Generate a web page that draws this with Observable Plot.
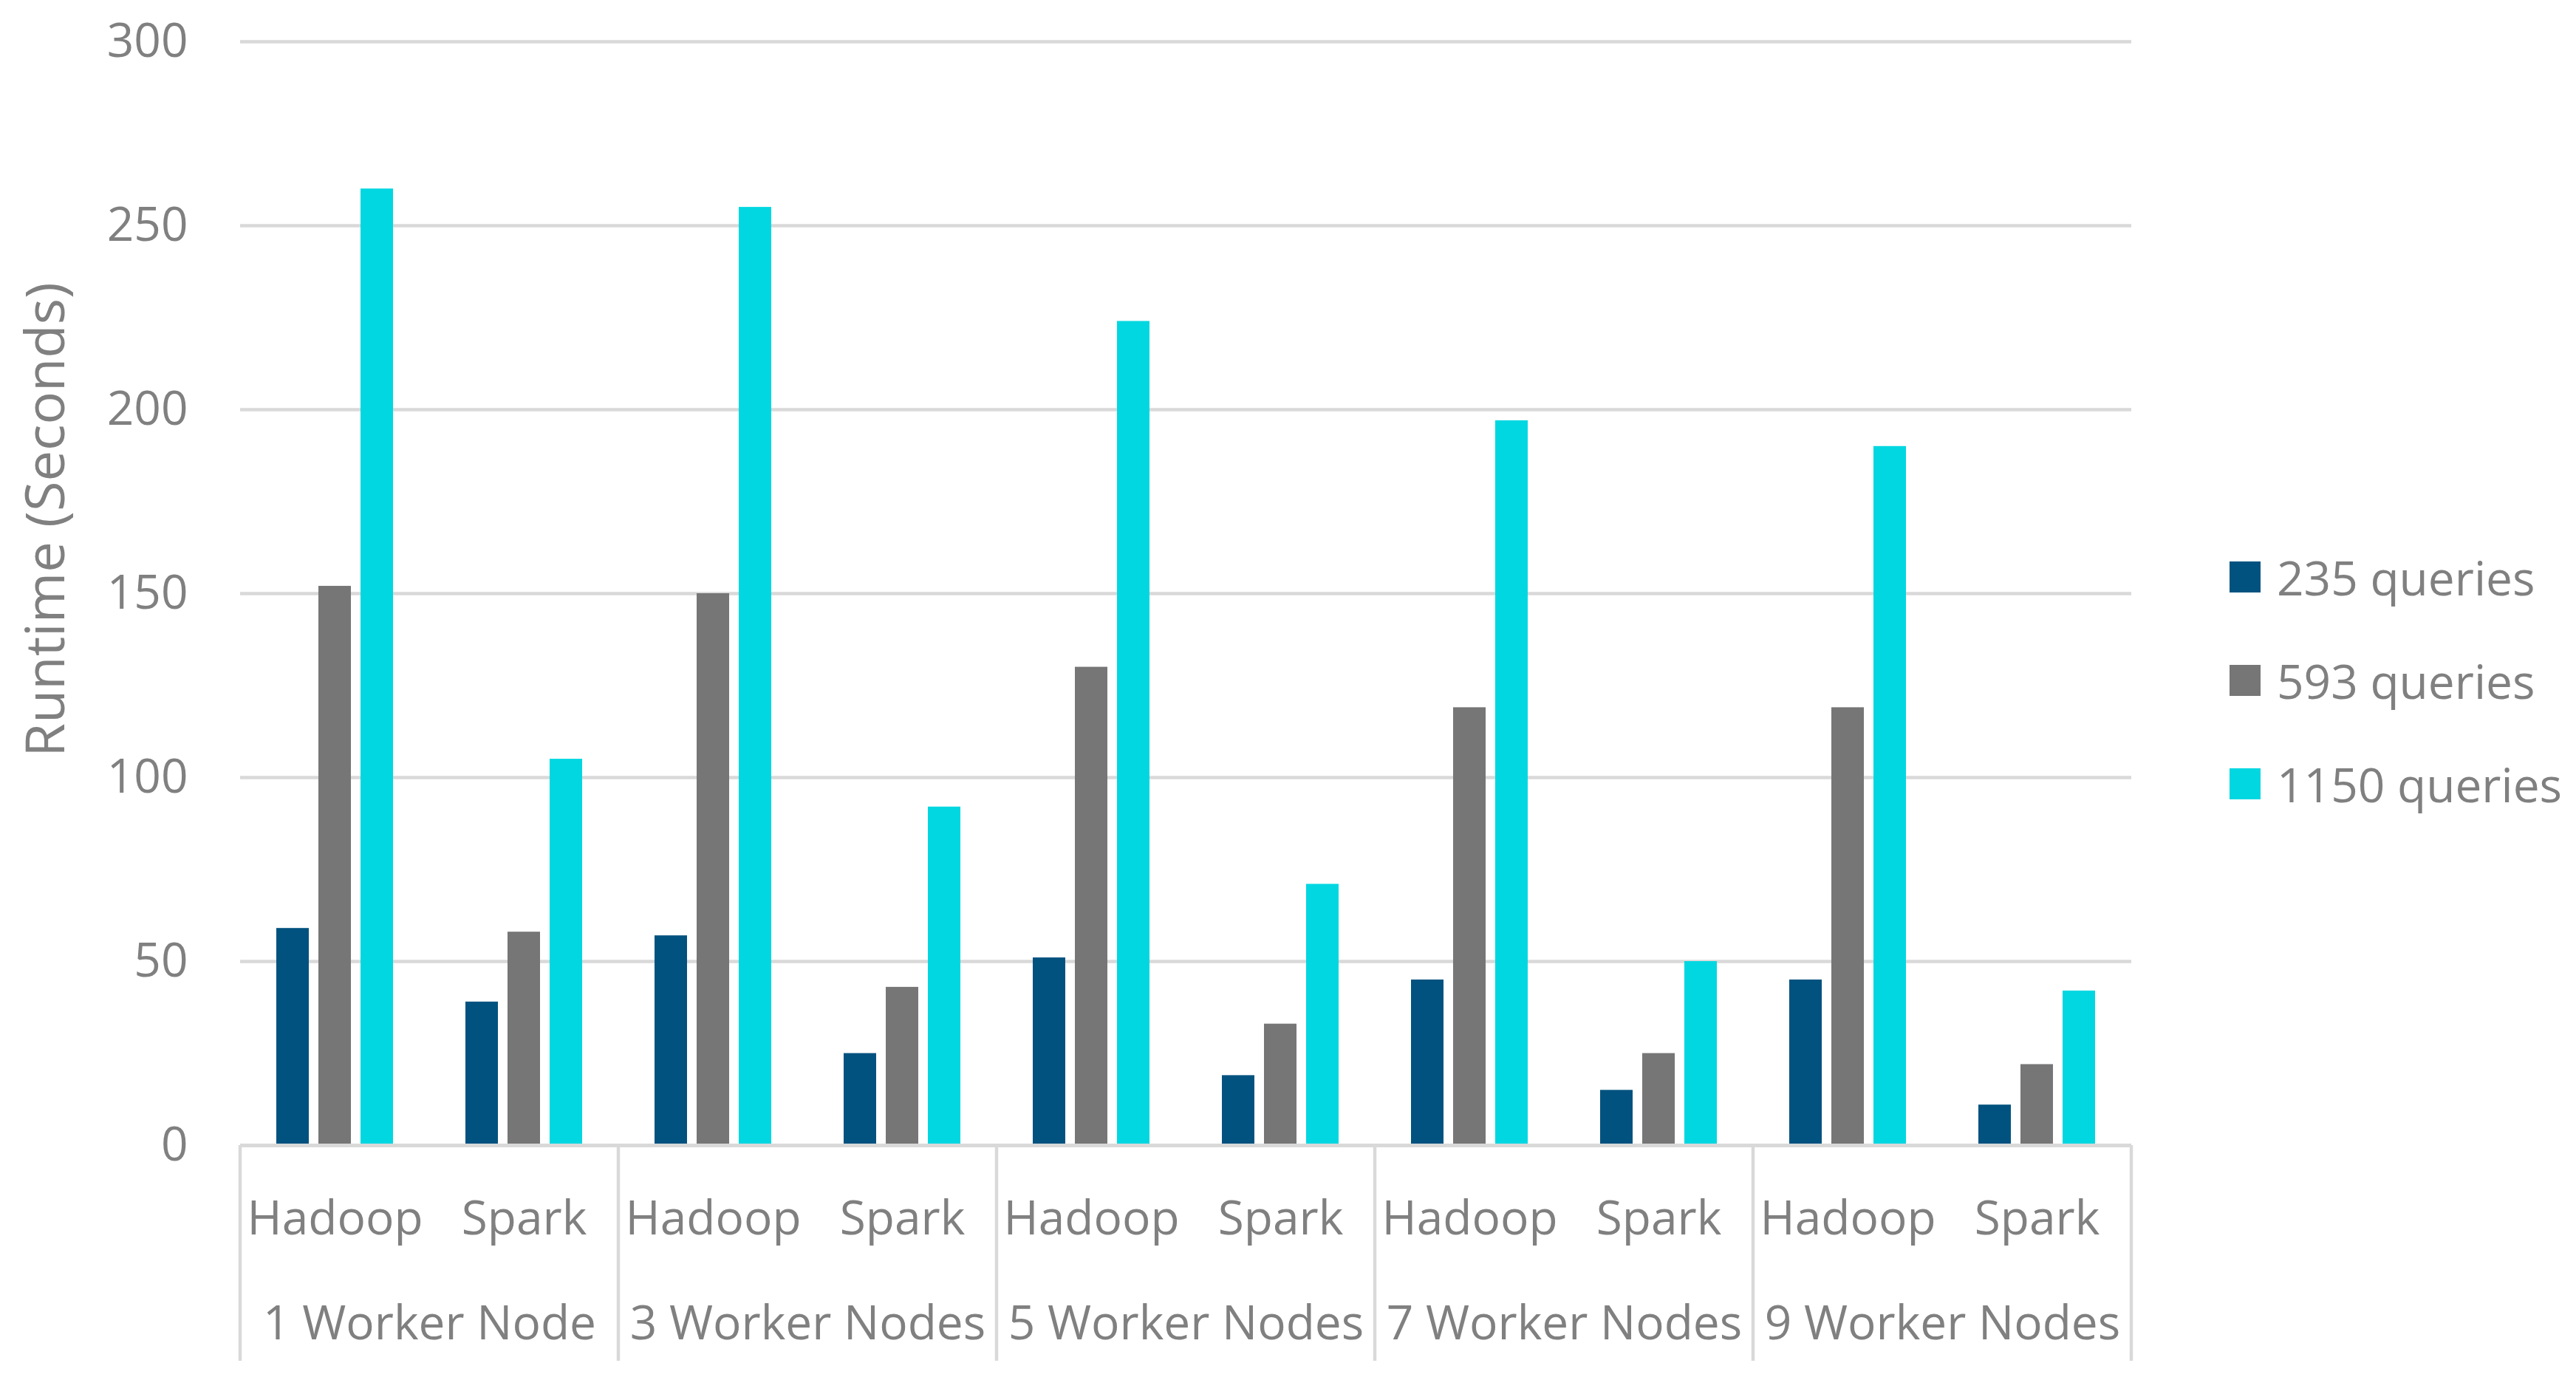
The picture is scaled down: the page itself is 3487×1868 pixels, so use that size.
<!DOCTYPE html>
<html>
<head>
<meta charset="utf-8">
<script src="https://cdn.jsdelivr.net/npm/d3@7"></script>
<script src="https://cdn.jsdelivr.net/npm/@observablehq/plot@0.6"></script>
<style>
  html, body { margin: 0; padding: 0; background: #fff; }
  #wrap { position: relative; width: 3487px; height: 1868px; font-family: 'Open Sans', sans-serif; color: #808080; }
  #chart { position: absolute; left: 0; top: 0; }
  #legend { position: absolute; left: 3018px; top: 741px; }
  .item { display: flex; align-items: center; height: 80px; margin-bottom: 60px; font-size: 64px; white-space: nowrap; }
  .sw { width: 42px; height: 42px; margin-right: 22px; flex: none; }
</style>
</head>
<body>
<div id="wrap"><div id="chart"></div><div id="legend"></div></div>
<script>
const groups = ["1 Worker Node", "3 Worker Nodes", "5 Worker Nodes", "7 Worker Nodes", "9 Worker Nodes"];
const systems = ["Hadoop", "Spark"];
const seriesNames = ["235 queries", "593 queries", "1150 queries"];
// values ordered: group1 Hadoop, group1 Spark, group2 Hadoop, ...
const q235 = [59, 39, 57, 25, 51, 19, 45, 15, 45, 11];
const q593 = [152, 58, 150, 43, 130, 33, 119, 25, 119, 22];
const q1150 = [260, 105, 255, 92, 224, 71, 197, 50, 190, 42];
const yTicks = [0, 50, 100, 150, 200, 250, 300];
const colors = ["#02527F", "#767676", "#00D7E1"];
const yTitle = "Runtime (Seconds)";

const keys = [];
groups.forEach(g => systems.forEach(s => keys.push(g + "|" + s)));
const seriesValues = [q235, q593, q1150];
const rows = [];
keys.forEach((k, i) => seriesNames.forEach((s, j) => rows.push({key: k, series: s, value: seriesValues[j][i]})));

const plot = Plot.plot({
  width: 2950,
  height: 1868,
  marginLeft: 322,
  marginRight: 63,
  marginTop: 56,
  marginBottom: 318,
  style: {fontFamily: "'Open Sans', sans-serif", color: "#808080", background: "transparent", overflow: "visible"},
  fx: {domain: keys, padding: 0},
  x: {domain: seriesNames, paddingInner: 0.23, paddingOuter: 0.84, axis: null},
  y: {domain: [0, 300]},
  color: {domain: seriesNames, range: colors},
  marks: [
    Plot.gridY(yTicks.slice(1), {stroke: "#d9d9d9", strokeOpacity: 1, strokeWidth: 4.5}),
    Plot.axisY(yTicks, {tickSize: 0, tickPadding: 71, fontSize: 64, label: null}),
    Plot.barY(rows, {fx: "key", x: "series", y: "value", fill: "series"}),
    Plot.ruleY([0], {stroke: "#d9d9d9", strokeWidth: 5}),
    Plot.axisFx({anchor: "bottom", tickFormat: d => d.split("|")[1], tickSize: 0, tickPadding: 75, fontSize: 64, label: null}),
    Plot.text(groups, {fx: d => d + "|Hadoop", frameAnchor: "bottom-right", textAnchor: "middle", text: d => d, dy: 262, fontSize: 64, fill: "#808080"}),
    Plot.text([yTitle], {fx: () => keys[0], frameAnchor: "left", textAnchor: "middle", text: d => d, rotate: -90, dx: -262, dy: -100, fontSize: 74, fill: "#808080"})
  ]
});
document.getElementById("chart").appendChild(plot);

// group separators below the baseline, positioned by the fx and y scales
const fx = plot.scale("fx");
const ys = plot.scale("y");
const y0 = ys.apply(0);
const edges = groups.map(g => fx.apply(g + "|Hadoop"));
edges.push(fx.apply(keys[keys.length - 1]) + fx.bandwidth);
d3.select(plot).append("g")
  .selectAll("line").data(edges).join("line")
  .attr("x1", d => d).attr("x2", d => d)
  .attr("y1", y0).attr("y2", 1842)
  .attr("stroke", "#d9d9d9").attr("stroke-width", 4.5);

const legend = d3.select("#legend");
seriesNames.forEach((s, i) => {
  const it = legend.append("div").attr("class", "item");
  it.append("div").attr("class", "sw").style("background", colors[i]);
  it.append("span").text(s);
});
</script>
</body>
</html>
